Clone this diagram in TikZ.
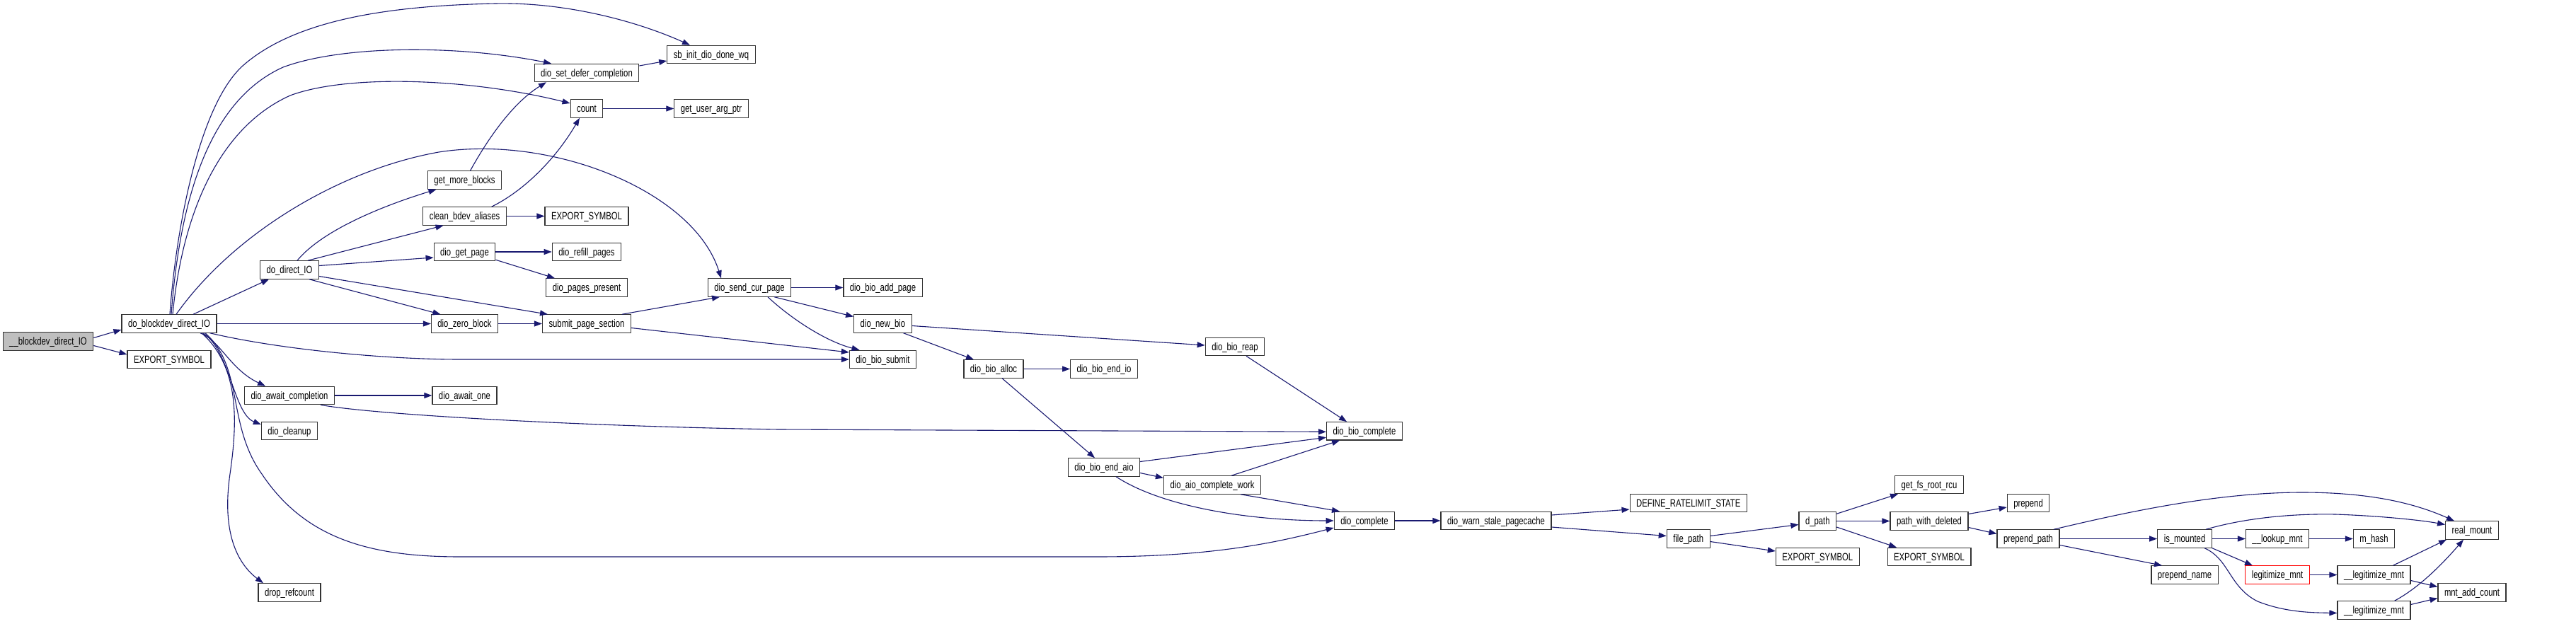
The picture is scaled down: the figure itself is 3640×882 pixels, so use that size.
\documentclass[tikz,border=0pt]{standalone}
\usepackage{fontspec}
\newfontfamily\dfont[FakeStretch=0.76]{Liberation Sans}
\usetikzlibrary{arrows.meta}
\definecolor{edgec}{HTML}{191970}
\definecolor{rootfill}{HTML}{BFBFBF}
\definecolor{redb}{HTML}{FF0000}
\begin{document}
\begin{tikzpicture}[x=1pt,y=-1pt,
  fn/.style={draw=black!80, line width=1.2pt, fill=white, rectangle, inner xsep=9pt, inner ysep=0pt,
    minimum height=25.3pt, text height=10.7pt, text depth=0pt, font={\dfont\fontsize{14.9}{16}\selectfont}},
  rootn/.style={fn, fill=rootfill},
  redn/.style={fn, draw=redb},
  e/.style={draw=edgec, line width=1.1pt, -{Triangle[length=11pt,width=8pt]}}]
\fill[white] (0,0) rectangle (3640,882);
\useasboundingbox (0,0) rectangle (3640,882);

\node[rootn] (root) at (68,482.5) {\_\_blockdev\_direct\_IO};
\node[fn] (dbd) at (239,457.5) {do\_blockdev\_direct\_IO};
\node[fn] (exp1) at (239,508) {EXPORT\_SYMBOL};
\node[fn] (ddi) at (409,381.5) {do\_direct\_IO};
\node[fn] (dac) at (409,559) {dio\_await\_completion};
\node[fn] (dcl) at (409,609) {dio\_cleanup};
\node[fn] (drop) at (409,837.5) {drop\_refcount};
\node[fn] (gmb) at (656.5,254.5) {get\_more\_blocks};
\node[fn] (cba) at (656.5,305.5) {clean\_bdev\_aliases};
\node[fn] (dgp) at (656.5,356) {dio\_get\_page};
\node[fn] (dzb) at (656.5,457.5) {dio\_zero\_block};
\node[fn] (dao) at (656.5,559) {dio\_await\_one};
\node[fn] (dsdc) at (829,103) {dio\_set\_defer\_completion};
\node[fn] (cnt) at (829,153.5) {count};
\node[fn] (exp2) at (829,305.5) {EXPORT\_SYMBOL};
\node[fn] (drp) at (829,356) {dio\_refill\_pages};
\node[fn] (dpp) at (829,406.5) {dio\_pages\_present};
\node[fn] (sps) at (829,457.5) {submit\_page\_section};
\node[fn] (sbi) at (1005,77) {sb\_init\_dio\_done\_wq};
\node[fn] (guap) at (1005,153.5) {get\_user\_arg\_ptr};
\node[fn] (dscp) at (1059,406.5) {dio\_send\_cur\_page};
\node[fn] (dbap) at (1247.5,406.5) {dio\_bio\_add\_page};
\node[fn] (dnb) at (1247.5,457.5) {dio\_new\_bio};
\node[fn] (dbs) at (1247.5,508) {dio\_bio\_submit};
\node[fn] (dba) at (1404,521.5) {dio\_bio\_alloc};
\node[fn] (dbei) at (1560,521.5) {dio\_bio\_end\_io};
\node[fn] (dbea) at (1560,660.5) {dio\_bio\_end\_aio};
\node[fn] (dbr) at (1745,490) {dio\_bio\_reap};
\node[fn] (dacw) at (1713,685.5) {dio\_aio\_complete\_work};
\node[fn] (dbc) at (1928,609.3) {dio\_bio\_complete};
\node[fn] (dc) at (1928,736) {dio\_complete};
\node[fn] (dwsp) at (2114,736) {dio\_warn\_stale\_pagecache};
\node[fn] (drs) at (2385.7,711) {DEFINE\_RATELIMIT\_STATE};
\node[fn] (fp) at (2385.7,761.5) {file\_path};
\node[fn] (dp) at (2568.3,736.5) {d\_path};
\node[fn] (exp3) at (2568.3,787) {EXPORT\_SYMBOL};
\node[fn] (gfrr) at (2726,685) {get\_fs\_root\_rcu};
\node[fn] (pwd) at (2726,736.5) {path\_with\_deleted};
\node[fn] (exp4) at (2726,787) {EXPORT\_SYMBOL};
\node[fn] (prep) at (2866,711) {prepend};
\node[fn] (pp) at (2866,761.5) {prepend\_path};
\node[fn] (ism) at (3087,761.5) {is\_mounted};
\node[fn] (pn) at (3087,812.5) {prepend\_name};
\node[fn] (lkm) at (3218,761.5) {\_\_lookup\_mnt};
\node[redn] (lgm) at (3218,812.5) {legitimize\_mnt};
\node[fn] (mh) at (3354.5,761.5) {m\_hash};
\node[fn] (lgm1) at (3354.5,812.5) {\_\_legitimize\_mnt};
\node[fn] (lgm2) at (3354.5,862.5) {\_\_legitimize\_mnt};
\node[fn] (rm) at (3493,749.5) {real\_mount};
\node[fn] (mac) at (3493,837.5) {mnt\_add\_count};

% root
\draw[e] ([yshift=5pt]root.east) -- ([yshift=-8.5pt]dbd.west);
\draw[e] ([yshift=-6pt]root.east) -- ([yshift=7pt]exp1.west);
% do_blockdev_direct_IO
\draw[e] ([xshift=1pt]dbd.north) .. controls (248,330) and (280,150) .. (343,93) .. controls (420,25) and (560,8) .. (700,5) .. controls (800,3) and (900,30) .. ([xshift=-30pt]sbi.north);
\draw[e] ([xshift=3pt]dbd.north) .. controls (255,270) and (300,140) .. (400,95) .. controls (480,65) and (640,62) .. ([xshift=-50pt]dsdc.north);
\draw[e] ([xshift=5pt]dbd.north) .. controls (258,300) and (310,180) .. (410,135) .. controls (490,105) and (660,110) .. ([yshift=7.5pt]cnt.west);
\draw[e] ([xshift=10pt]dbd.north) .. controls (330,330) and (480,240) .. (620,215) .. controls (780,190) and (980,270) .. ([xshift=-40pt]dscp.north);
\draw[e] ([xshift=34pt]dbd.north) -- ([xshift=-29pt]ddi.south);
\draw[e] (dbd.east) -- (dzb.west);
\draw[e] ([xshift=-10pt]dbd.south east) .. controls (400,495) and (550,508) .. (650,508) -- (dbs.west);
\draw[e] ([xshift=44pt]dbd.south) .. controls (310,480) and (325,522) .. ([xshift=-34pt]dac.north);
\draw[e] ([xshift=48pt]dbd.south) .. controls (325,495) and (330,585) .. ([yshift=9pt]dcl.west);
\draw[e] ([xshift=46pt]dbd.south) .. controls (340,520) and (335,600) .. (325,670) .. controls (312,760) and (340,800) .. ([xshift=-37pt]drop.north);
\draw[e] ([xshift=51pt]dbd.south) .. controls (345,520) and (320,600) .. (370,670) .. controls (430,760) and (520,787) .. (650,787) -- (1550,787) .. controls (1720,787) and (1810,765) .. ([yshift=-10pt]dc.west);
% do_direct_IO
\draw[e] ([xshift=11pt]ddi.north) .. controls (460,320) and (560,285) .. ([xshift=-40pt]gmb.south);
\draw[e] ([xshift=26pt]ddi.north) -- ([xshift=-30pt]cba.south);
\draw[e] ([yshift=6pt]ddi.east) -- ([yshift=-8pt]dgp.west);
\draw[e] ([yshift=-9pt]ddi.east) -- ([xshift=-55pt]sps.north);
\draw[e] ([xshift=28pt]ddi.south) -- ([xshift=-34pt]dzb.north);
% rank 3/4
\draw[e] (dzb.east) -- (sps.west);
\draw[e] ([xshift=50pt]sps.north) -- ([xshift=-42pt]dscp.south);
\draw[e] ([yshift=-6pt]sps.east) -- ([yshift=10pt]dbs.west);
\draw[e] ([xshift=8pt]gmb.north) .. controls (690,195) and (725,145) .. ([xshift=-57pt]dsdc.south);
\draw[e] ([xshift=38pt]cba.north) .. controls (740,270) and (785,225) .. ([xshift=-10pt]cnt.south);
\draw[e] (cba.east) -- (exp2.west);
\draw[e] (dgp.east) -- (drp.west);
\draw[e] ([yshift=2pt]dgp.south east) -- ([xshift=-45pt]dpp.north);
\draw[e] ([yshift=10pt]dsdc.east) -- ([yshift=-9pt]sbi.west);
\draw[e] (cnt.east) -- (guap.west);
\draw[e] (dac.east) -- (dao.west);
\draw[e] ([xshift=44pt]dac.south) .. controls (520,585) and (800,602) .. (1100,607) -- ([yshift=-1pt]dbc.west);
% dio_send_cur_page
\draw[e] (dscp.east) -- (dbap.west);
\draw[e] ([xshift=35pt]dscp.south) -- ([yshift=10pt]dnb.west);
\draw[e] ([xshift=26pt]dscp.south) .. controls (1115,448) and (1165,482) .. ([xshift=-33pt]dbs.north);
% bio
\draw[e] ([yshift=-3pt]dnb.east) -- ([yshift=2pt]dbr.west);
\draw[e] ([xshift=29pt]dnb.south) -- ([xshift=-28pt]dba.north);
\draw[e] (dba.east) -- (dbei.west);
\draw[e] ([xshift=12pt]dba.south) -- ([xshift=-13pt]dbea.north);
\draw[e] ([xshift=16pt]dbr.south) -- ([xshift=-25pt]dbc.north);
\draw[e] ([yshift=8pt]dbea.east) -- ([yshift=-9pt]dbc.west);
\draw[e] ([yshift=-8pt]dbea.east) -- ([yshift=10pt]dacw.west);
\draw[e] ([xshift=17pt]dbea.south) .. controls (1640,715) and (1760,736) .. (dc.west);
\draw[e] ([xshift=27pt]dacw.north) -- ([xshift=-35pt]dbc.south);
\draw[e] ([xshift=40pt]dacw.south) -- ([xshift=-35pt]dc.north);
% complete chain
\draw[e] (dc.east) -- (dwsp.west);
\draw[e] ([yshift=8pt]dwsp.east) -- ([yshift=-9pt]drs.west);
\draw[e] ([yshift=-9pt]dwsp.east) -- ([yshift=4pt]fp.west);
\draw[e] ([yshift=4pt]fp.east) -- ([yshift=-5pt]dp.west);
\draw[e] ([yshift=-4pt]fp.east) -- ([yshift=8pt]exp3.west);
\draw[e] ([yshift=-3pt]dp.north east) -- ([xshift=-44pt]gfrr.south);
\draw[e] (dp.east) -- (pwd.west);
\draw[e] ([yshift=-8.5pt]dp.east) -- ([xshift=-46pt]exp4.north);
\draw[e] ([yshift=10pt]pwd.east) -- ([yshift=-6pt]prep.west);
\draw[e] ([yshift=-9pt]pwd.east) -- ([yshift=7pt]pp.west);
% prepend_path and mounts
\draw[e] ([xshift=36pt]pp.north) .. controls (3000,725) and (3130,696) .. (3253,696) .. controls (3360,696) and (3420,715) .. ([xshift=-25pt]rm.north);
\draw[e] (pp.east) -- (ism.west);
\draw[e] ([yshift=-9pt]pp.east) -- ([xshift=-32pt]pn.north);
\draw[e] ([xshift=30pt]ism.north) .. controls (3180,730) and (3250,726) .. (3300,727) .. controls (3360,729) and (3420,735) .. ([yshift=8pt]rm.west);
\draw[e] (ism.east) -- (lkm.west);
\draw[e] (ism.south east) -- ([xshift=-35pt]lgm.north);
\draw[e] ([xshift=28pt]ism.south) .. controls (3150,790) and (3150,830) .. (3190,850) .. controls (3230,866) and (3270,866) .. ([yshift=-4pt]lgm2.west);
\draw[e] (lkm.east) -- (mh.west);
\draw[e] (lgm.east) -- (lgm1.west);
\draw[e] ([xshift=27pt]lgm1.north) -- ([xshift=-36pt]rm.south);
\draw[e] ([yshift=-8pt]lgm1.east) -- ([yshift=8pt]mac.west);
\draw[e] ([xshift=29pt]lgm2.north) .. controls (3410,835) and (3440,810) .. ([xshift=-12pt]rm.south);
\draw[e] ([yshift=8pt]lgm2.east) -- ([yshift=-8pt]mac.west);
\end{tikzpicture}
\end{document}
